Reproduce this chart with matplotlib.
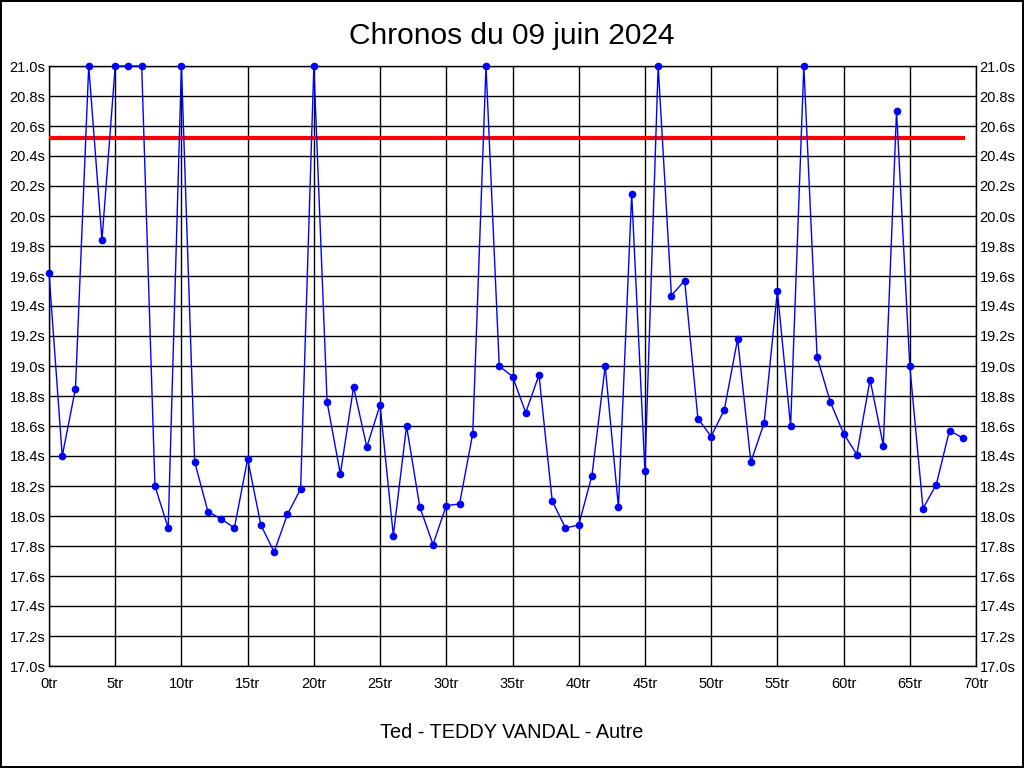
import matplotlib
matplotlib.use("Agg")
import matplotlib.pyplot as plt
from matplotlib.ticker import MultipleLocator, FuncFormatter

plt.rcParams['font.family'] = ['Liberation Sans', 'DejaVu Sans']

title = "Chronos du 09 juin 2024"
xlabel = "Ted - TEDDY VANDAL - Autre"

laps = list(range(70))
times = [19.62, 18.40, 18.85, 21.00, 19.84, 21.00, 21.00, 21.00, 18.20, 17.92,
         21.00, 18.36, 18.03, 17.98, 17.92, 18.38, 17.94, 17.76, 18.01, 18.18,
         21.00, 18.76, 18.28, 18.86, 18.46, 18.74, 17.87, 18.60, 18.06, 17.81,
         18.07, 18.08, 18.55, 21.00, 19.00, 18.93, 18.69, 18.94, 18.10, 17.92,
         17.94, 18.27, 19.00, 18.06, 20.15, 18.30, 21.00, 19.47, 19.57, 18.65,
         18.53, 18.71, 19.18, 18.36, 18.62, 19.50, 18.60, 21.00, 19.06, 18.76,
         18.55, 18.41, 18.91, 18.47, 20.70, 19.00, 18.05, 18.21, 18.57, 18.52]
reference_time = 20.52

fig = plt.figure(figsize=(10.24, 7.68), dpi=100)
fig.patch.set_facecolor('white')
fig.patch.set_edgecolor('black')
fig.patch.set_linewidth(1.5)

ax = fig.add_axes([49/1024, 1 - 666/768, (976-49)/1024, (666-66)/768])
ax.set_xlim(0, 70)
ax.set_ylim(17.0, 21.0)
ax.xaxis.set_major_locator(MultipleLocator(5))
ax.yaxis.set_major_locator(MultipleLocator(0.2))
ax.xaxis.set_major_formatter(FuncFormatter(lambda v, p: f"{int(round(v))}tr"))
ax.yaxis.set_major_formatter(FuncFormatter(lambda v, p: f"{v:.1f}s"))
ax.grid(True, color='black', linewidth=1)
ax.set_axisbelow(True)
for s in ax.spines.values():
    s.set_color('black')
    s.set_linewidth(1)
ax.tick_params(axis='both', length=0, labelsize=10.5, colors='black')
ax.tick_params(axis='x', pad=8)
ax.tick_params(axis='y', pad=2.5, labelleft=True, labelright=True)

ax.plot([laps[0], laps[-1]], [reference_time, reference_time], color='#ff0000', linewidth=3, zorder=3)
ax.plot(laps, times, color='#0000ff', linewidth=1, marker='o', markersize=4.5, zorder=4, clip_on=False)

fig.text(0.5, 1 - 36/768, title, ha='center', va='center', fontsize=21.5)
fig.text(0.5, 1 - 732/768, xlabel, ha='center', va='center', fontsize=14.3)

fig.savefig("out.png", dpi=100)
